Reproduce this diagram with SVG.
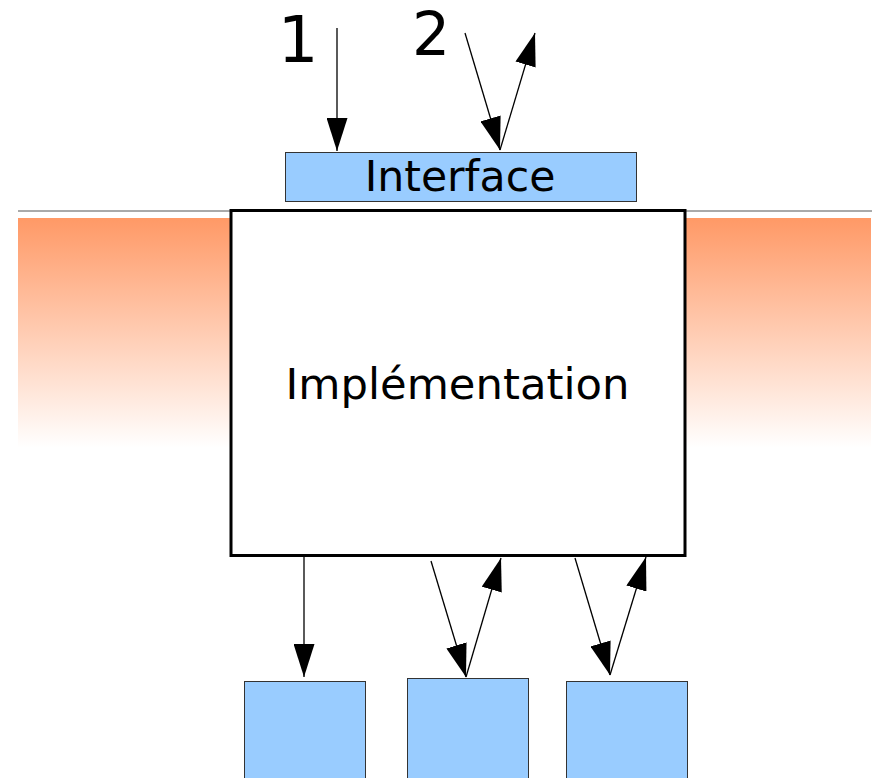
<svg xmlns="http://www.w3.org/2000/svg" width="875" height="778" viewBox="0 0 875 778">
<defs>
<linearGradient id="grad" x1="0" y1="0" x2="0" y2="1">
<stop offset="0" stop-color="#ff9966"/>
<stop offset="1" stop-color="#ffffff"/>
</linearGradient>
<marker id="ah" markerUnits="userSpaceOnUse" markerWidth="33" markerHeight="21" refX="33" refY="10.5" orient="auto" viewBox="0 0 33 21">
<path d="M0,0 L33,10.5 L0,21 z" fill="#000"/>
</marker>
</defs>
<style>
.lbl{font-family:"DejaVu Sans",sans-serif;fill:#000}
.box{fill:#99ccff;stroke:#333;stroke-width:1}
.conn line{stroke:#000;stroke-width:1.3;marker-end:url(#ah)}
</style>
<rect id="bandL" x="18" y="218" width="212" height="230" fill="url(#grad)"/>
<rect id="bandR" x="686" y="218" width="185" height="230" fill="url(#grad)"/>
<line x1="18" y1="211" x2="872" y2="211" stroke="#555" stroke-width="1"/>
<g id="impl">
<rect x="231" y="210.5" width="454" height="345" fill="#fff" stroke="#000" stroke-width="3"/>
<text class="lbl" x="457.5" y="399" font-size="43.3" text-anchor="middle">Implémentation</text>
</g>
<g id="iface">
<rect class="box" x="285.5" y="152.5" width="351" height="49"/>
<text class="lbl" x="460" y="191" font-size="42.6" text-anchor="middle">Interface</text>
</g>
<g id="label1"><text class="lbl" x="298" y="62" font-size="64" text-anchor="middle">1</text></g>
<g id="label2"><text class="lbl" x="431" y="55" font-size="60" text-anchor="middle">2</text></g>
<g id="m1"><rect class="box" x="244.5" y="681.5" width="121" height="110"/></g>
<g id="m2"><rect class="box" x="407.5" y="678.5" width="121" height="110"/></g>
<g id="m3"><rect class="box" x="566.5" y="681.5" width="121" height="110"/></g>
<g class="conn" id="connectors">
<line x1="337" y1="28" x2="337" y2="151"/>
<line x1="465" y1="33" x2="500" y2="150"/>
<line x1="500" y1="150" x2="535" y2="33"/>
<line x1="304" y1="556" x2="304" y2="677"/>
<line x1="431" y1="561" x2="466" y2="677"/>
<line x1="466" y1="677" x2="501" y2="558"/>
<line x1="575" y1="558" x2="610" y2="675"/>
<line x1="610" y1="675" x2="646" y2="557"/>
</g>
</svg>
